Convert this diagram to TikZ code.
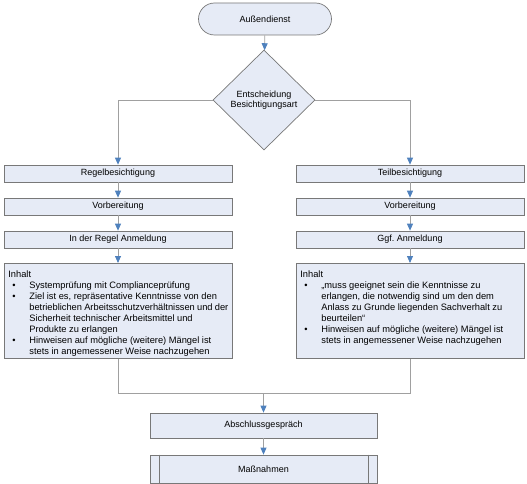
\documentclass[tikz,border=0pt]{standalone}
\usepackage{fontspec}
\setmainfont{Liberation Sans}
\usetikzlibrary{shapes.geometric,arrows.meta}
\definecolor{boxfill}{RGB}{230,235,246}
\definecolor{boxline}{RGB}{120,120,120}
\definecolor{conline}{RGB}{160,160,160}
\definecolor{tipblue}{RGB}{79,129,189}
\frenchspacing
\newenvironment{blist}{\begin{list}{\textbullet}{%
  \setlength{\leftmargin}{21pt}\setlength{\labelwidth}{21pt}%
  \setlength{\labelsep}{0pt}\setlength{\itemsep}{0pt}%
  \setlength{\topsep}{0pt}\setlength{\parsep}{0pt}\setlength{\partopsep}{0pt}%
  \renewcommand\makelabel[1]{\hspace{4pt}##1\hfil}}}{\end{list}}
\begin{document}
\begin{tikzpicture}[x=1pt,y=-1pt,
  box/.style={draw=boxline, fill=boxfill, line width=0.7pt, minimum width=228pt,
    minimum height=17pt, inner sep=0pt, font=\fontsize{9}{10.5}\selectfont},
  infobox/.style={draw=boxline, fill=boxfill, line width=0.7pt, inner xsep=4pt,
    inner ysep=0pt, anchor=north west, font=\fontsize{9.3}{11}\selectfont},
  conn/.style={draw=conline, line width=0.8pt, -{Triangle[length=7pt,width=6pt,color=tipblue]}},
  plainline/.style={draw=conline, line width=0.8pt}]
\useasboundingbox (0,0) rectangle (527,484);

\node[box, rounded corners=16pt, minimum width=133pt, minimum height=32pt] (start) at (265,19) {Außendienst};
\node[box, diamond, aspect=1, minimum width=102pt, minimum height=100pt, align=center] (dec) at (264,100) {Entscheidung\\Besichtigungsart};

\node[box] (regel) at (118,173.5) {Regelbesichtigung};
\node[box] (vorb1) at (118,206.5) {Vorbereitung};
\node[box] (anm1) at (118,239.5) {In der Regel Anmeldung};
\node[infobox] (inh1) at (4,263) {\parbox[t][95pt][t]{220pt}{\vspace*{7pt}Inhalt
\begin{blist}
\item Systemprüfung mit Complianceprüfung
\item Ziel ist es, repräsentative Kenntnisse von den\\
betrieblichen Arbeitsschutzverhältnissen und der\\
Sicherheit technischer Arbeitsmittel und\\
Produkte zu erlangen
\item Hinweisen auf mögliche (weitere) Mängel ist\\
stets in angemessener Weise nachzugehen
\end{blist}}};

\node[box] (teil) at (410,173.5) {Teilbesichtigung};
\node[box] (vorb2) at (410,206.5) {Vorbereitung};
\node[box] (anm2) at (410,239.5) {Ggf.\ Anmeldung};
\node[infobox] (inh2) at (296,263) {\parbox[t][95pt][t]{220pt}{\vspace*{7pt}Inhalt
\begin{blist}
\item „muss geeignet sein die Kenntnisse zu\\
erlangen, die notwendig sind um den dem\\
Anlass zu Grunde liegenden Sachverhalt zu\\
beurteilen“
\item Hinweisen auf mögliche (weitere) Mängel ist\\
stets in angemessener Weise nachzugehen
\end{blist}}};

\node[box, minimum width=227pt, minimum height=25pt] (absch) at (263.5,425.5) {Abschlussgespräch};
\node[box, minimum width=227pt, minimum height=28pt] (mass) at (263.5,469) {Maßnahmen};
\draw[draw=boxline, line width=0.7pt] ([xshift=10pt]mass.north west) -- ([xshift=10pt]mass.south west);
\draw[draw=boxline, line width=0.7pt] ([xshift=-9pt]mass.north east) -- ([xshift=-9pt]mass.south east);

\coordinate (join) at (263.5,393);
\draw[conn] (start) -- (dec);
\draw[conn] (dec.west) -| (regel.north);
\draw[conn] (dec.east) -| (teil.north);
\draw[conn] (regel) -- (vorb1);
\draw[conn] (vorb1) -- (anm1);
\draw[conn] (anm1) -- (inh1.north -| anm1.south);
\draw[conn] (teil) -- (vorb2);
\draw[conn] (vorb2) -- (anm2);
\draw[conn] (anm2) -- (inh2.north -| anm2.south);
\draw[plainline] (inh1.south -| anm1.south) |- (join);
\draw[plainline] (inh2.south -| anm2.south) |- (join);
\draw[conn] (join) -- (absch);
\draw[conn] (absch) -- (mass);
\end{tikzpicture}
\end{document}
